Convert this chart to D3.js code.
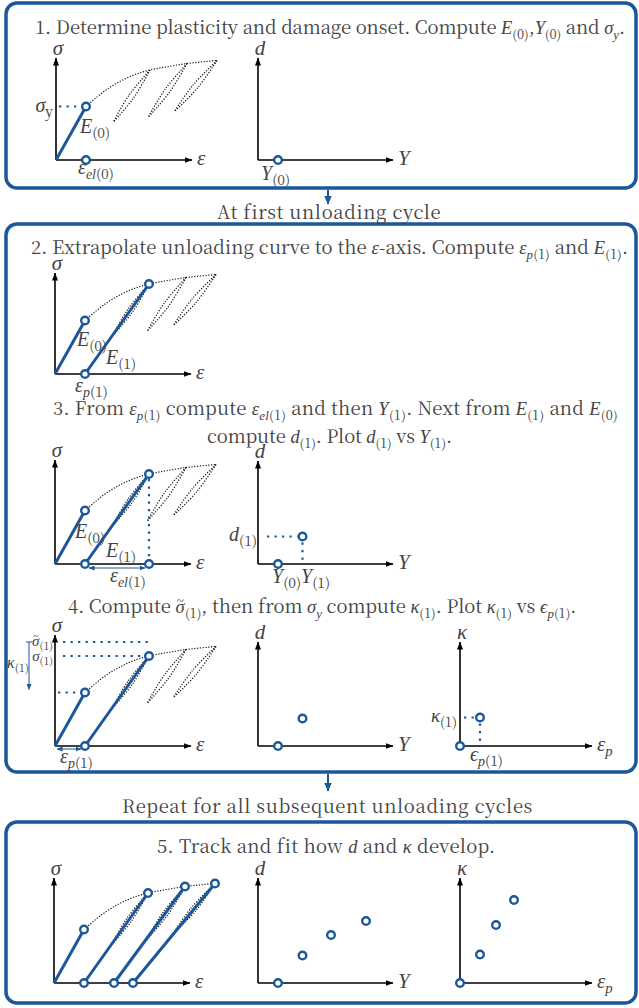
<!DOCTYPE html>
<html><head><meta charset="utf-8">
<script src="https://cdn.jsdelivr.net/npm/d3@7"></script>
<style>body{margin:0;background:#fff} svg{display:block} text{white-space:pre}</style>
</head><body><svg id="c" width="639" height="1008"></svg>
<script>
// ---------------- data ----------------
const yieldPoint   = [0.30, 0.535];            // [strain, stress] at onset of plasticity/damage
const envelope     = [[0.30,0.535],[0.53,0.72],[0.73,0.83],[0.94,0.90],[1.10,0.93],[1.31,0.965],[1.45,0.98],[1.61,0.995]];
const peaks        = [[0.94,0.90],[1.31,0.965],[1.61,0.995]];   // unloading starts
const loopBottoms  = [[0.57,0.375],[0.92,0.425],[1.18,0.48]];   // unloading ends
const loopWidth    = 0.022;
const plasticStrain = [0.30, 0.60, 0.79];      // epsilon_p(k), intercept of unloading line
const effStress1   = 1.04;                      // sigma-tilde(1)
const dY_Y = [0.20, 0.445, 0.73, 1.08];
const dY_d = [0.00, 0.275, 0.48, 0.62];
const kap_ep = [0.00, 0.20, 0.36, 0.54];
const kap_k  = [0.00, 0.285, 0.58, 0.83];

// ---------------- setup ----------------
const BLUE = "#1b5799", TXT = "#444444";
const UPRIGHT = '"Noto Serif CJK SC"', ITALIC = '"Liberation Serif"';
const svg = d3.select("#c");
const defs = svg.append("defs");
function marker(id, color, w, h) {
  defs.append("marker").attr("id", id).attr("markerUnits","userSpaceOnUse")
    .attr("markerWidth", w).attr("markerHeight", h).attr("refX", w-0.5).attr("refY", h/2)
    .attr("orient","auto-start-reverse")
    .append("path").attr("d", `M0,0L${w},${h/2}L0,${h}Z`).attr("fill", color);
}
marker("ak", "#000", 8, 6);
marker("ab", BLUE, 6, 5);
marker("abig", BLUE, 9, 8);

function rich(parent, x, y, segs, size, anchor) {
  const t = parent.append("text").attr("x", x).attr("y", y).attr("font-size", size)
    .attr("fill", TXT).attr("text-anchor", anchor || "start").style("font-family", UPRIGHT);
  let sub = false; const sh = size * 0.26;
  let pendDy = 0, pendDx = 0;
  segs.forEach(([s, st]) => {
    if (st === "~") {   // tilde accent over previous glyph
      t.append("tspan").text("~").attr("font-size", size*0.7).style("font-family", ITALIC)
        .attr("dx", -size*0.42).attr("dy", -size*0.44);
      pendDy = size*0.44; pendDx = size*0.06;
      return;
    }
    const isSub = st.includes("s"), isIt = st.includes("i");
    const ts = t.append("tspan").text(s);
    let dy = pendDy;
    if (isSub && !sub) dy += sh;
    if (!isSub && sub) dy -= sh;
    if (dy) ts.attr("dy", dy);
    if (pendDx) ts.attr("dx", pendDx);
    pendDy = 0; pendDx = 0;
    sub = isSub;
    if (isSub) ts.attr("font-size", size * 0.7);
    if (isIt) ts.style("font-family", ITALIC).style("font-style", "italic");
  });
  return t;
}
function fit(t, w) {
  const L = t.node().getComputedTextLength();
  const n = t.text().length;
  t.attr("letter-spacing", ((w - L) / n).toFixed(3));
}

// ---------------- boxes, connectors, headings ----------------
const boxes = [[3,188],[224,772],[822,1003]];
svg.selectAll("rect.box").data(boxes).join("rect").attr("class","box")
  .attr("x", 6).attr("y", d => d[0]).attr("width", 630).attr("height", d => d[1]-d[0])
  .attr("rx", 11).attr("fill","none").attr("stroke", BLUE).attr("stroke-width", 3.5);
[[190,204],[774,791]].forEach(([a,b]) => {
  svg.append("line").attr("x1",328).attr("x2",328).attr("y1",a).attr("y2",b)
    .attr("stroke",BLUE).attr("stroke-width",2).attr("marker-end","url(#abig)");
});

const headings = [
  {x:35,  y:34,  w:590, s:[["1. Determine plasticity and damage onset. Compute ",""],["E","i"],["(0)","s"],[",",""],["Y","i"],["(0)","s"],[" and ",""],["σ","i"],["y","si"],[".",""]]},
  {x:217, y:219, w:223, s:[["At first unloading cycle",""]]},
  {x:31,  y:254, w:597, s:[["2. Extrapolate unloading curve to the ",""],["ε","i"],["-axis. Compute ",""],["ε","i"],["p","si"],["(1)","s"],[" and ",""],["E","i"],["(1)","s"],[".",""]]},
  {x:53,  y:415, w:565, s:[["3. From ",""],["ε","i"],["p","si"],["(1)","s"],[" compute ",""],["ε","i"],["el","si"],["(1)","s"],[" and then ",""],["Y","i"],["(1)","s"],[". Next from ",""],["E","i"],["(1)","s"],[" and ",""],["E","i"],["(0)","s"]]},
  {x:207, y:443, w:245, s:[["compute ",""],["d","i"],["(1)","s"],[". Plot ",""],["d","i"],["(1)","s"],[" vs ",""],["Y","i"],["(1)","s"],[".",""]]},
  {x:68,  y:613, w:515, s:[["4. Compute ",""],["σ","i"],["~","~"],["(1)","s"],[", then from ",""],["σ","i"],["y","si"],[" compute ",""],["κ","i"],["(1)","s"],[". Plot ",""],["κ","i"],["(1)","s"],[" vs ",""],["ϵ","i"],["p","si"],["(1)","s"],[".",""]]},
  {x:122, y:813, w:411, s:[["Repeat for all subsequent unloading cycles",""]]},
  {x:157, y:853, w:337, s:[["5. Track and fit how ",""],["d","i"],[" and ",""],["κ","i"],[" develop.",""]]}
];
headings.forEach(h => fit(rich(svg, h.x, h.y, h.s, 18.5), h.w));

// ---------------- chart helpers ----------------
const dotted = g => g.attr("fill","none").attr("stroke","#111").attr("stroke-width",1.2).attr("stroke-dasharray","1.2,1.6");
const guide  = g => g.attr("fill","none").attr("stroke",BLUE).attr("stroke-width",2.2).attr("stroke-dasharray","2.3,5.2");

function axes(g, x, y, xMax, yMax, xl, yl) {
  g.append("line").attr("x1", x(0)).attr("x2", x(xMax)).attr("y1", y(0)).attr("y2", y(0))
    .attr("stroke","#000").attr("stroke-width",1.6).attr("marker-end","url(#ak)");
  g.append("line").attr("x1", x(0)).attr("x2", x(0)).attr("y1", y(0)).attr("y2", y(yMax))
    .attr("stroke","#000").attr("stroke-width",1.6).attr("marker-end","url(#ak)");
  rich(g, x(xMax) + 5, y(0) + 5, xl, 21);
  rich(g, x(0) + 2, y(yMax) - 3, yl, 21, "middle");
}
function pts(g, arr) {
  g.selectAll(null).data(arr).join("circle").attr("cx", d => d[0]).attr("cy", d => d[1])
    .attr("r", 3.8).attr("fill","#fff").attr("stroke",BLUE).attr("stroke-width",2.4);
}
function blueLine(g, a, b) {
  g.append("line").attr("x1",a[0]).attr("y1",a[1]).attr("x2",b[0]).attr("y2",b[1])
    .attr("stroke",BLUE).attr("stroke-width",3);
}

function sigmaChart(p) {
  const g = svg.append("g");
  const x = d3.scaleLinear().domain([0,1]).range([p.ox, p.ox + 100]);
  const y = d3.scaleLinear().domain([0,1]).range([p.oy, p.oy - 100]);
  const line = d3.line().x(d => x(d[0])).y(d => y(d[1])).curve(d3.curveMonotoneX);
  const lens = d3.line().x(d => x(d[0])).y(d => y(d[1])).curve(d3.curveCatmullRom);
  g.append("path").attr("d", line(envelope)).call(dotted);
  peaks.forEach((t, i) => {
    const b = loopBottoms[i];
    const m = [(t[0]+b[0])/2, (t[1]+b[1])/2];
    [loopWidth, -loopWidth].forEach(o => {
      g.append("path").attr("d", lens([t, [m[0]+o, m[1]-o*0.7], b])).call(dotted);
    });
  });
  axes(g, x, y, 1.36, p.yMax, [["ε","i"]], [["σ","i"]]);
  return {g, x, y};
}
function dChart(p) {
  const g = svg.append("g");
  const x = d3.scaleLinear().domain([0,1]).range([p.ox, p.ox + 100]);
  const y = d3.scaleLinear().domain([0,1]).range([p.oy, p.oy - 100]);
  axes(g, x, y, 1.35, p.yMax, [["Y","i"]], [["d","i"]]);
  return {g, x, y};
}
function kChart(p) {
  const g = svg.append("g");
  const x = d3.scaleLinear().domain([0,1]).range([p.ox, p.ox + 100]);
  const y = d3.scaleLinear().domain([0,1]).range([p.oy, p.oy - 100]);
  axes(g, x, y, 1.32, p.yMax, [["ε","i"],["p","si"]], [["κ","i"]]);
  return {g, x, y};
}
const P = (c, d) => [c.x(d[0]), c.y(d[1])];

// ---------------- panel 1 ----------------
{
  const c = sigmaChart({ox:56, oy:160, yMax:1.02});
  c.g.append("line").attr("x1", c.x(0)+3).attr("x2", c.x(yieldPoint[0])-4)
    .attr("y1", c.y(yieldPoint[1])).attr("y2", c.y(yieldPoint[1])).call(guide);
  blueLine(c.g, P(c,[0,0]), P(c, yieldPoint));
  pts(c.g, [P(c, yieldPoint), P(c, [yieldPoint[0], 0])]);
  rich(c.g, c.x(0)-3, c.y(yieldPoint[1])+5, [["σ","i"],["y","s"]], 20, "end");
  rich(c.g, 80, 133, [["E","i"],["(0)","s"]], 20);
  rich(c.g, 78, 174, [["ε","i"],["el","si"],["(0)","s"]], 20);
  const dc = dChart({ox:258, oy:160, yMax:1.02});
  pts(dc.g, [P(dc, [dY_Y[0], dY_d[0]])]);
  rich(dc.g, 261, 180, [["Y","i"],["(0)","s"]], 20);
}
// ---------------- panel 2 ----------------
{
  const c = sigmaChart({ox:55, oy:374, yMax:1.01});
  blueLine(c.g, P(c,[0,0]), P(c, yieldPoint));
  blueLine(c.g, P(c,[plasticStrain[0],0]), P(c, peaks[0]));
  pts(c.g, [P(c, yieldPoint), P(c, peaks[0]), P(c, [plasticStrain[0], 0])]);
  rich(c.g, 77, 346, [["E","i"],["(0)","s"]], 20);
  rich(c.g, 106, 364, [["E","i"],["(1)","s"]], 20);
  rich(c.g, 75, 392, [["ε","i"],["p","si"],["(1)","s"]], 20);
}
// ---------------- panel 3 ----------------
{
  const c = sigmaChart({ox:55, oy:564, yMax:1.04});
  c.g.append("line").attr("x1", c.x(peaks[0][0])).attr("x2", c.x(peaks[0][0]))
    .attr("y1", c.y(peaks[0][1])+5).attr("y2", c.y(0)-4).call(guide);
  blueLine(c.g, P(c,[0,0]), P(c, yieldPoint));
  blueLine(c.g, P(c,[plasticStrain[0],0]), P(c, peaks[0]));
  c.g.append("line").attr("x1", c.x(plasticStrain[0])+4).attr("x2", c.x(peaks[0][0])-4)
    .attr("y1", c.y(0)+4).attr("y2", c.y(0)+4).attr("stroke",BLUE).attr("stroke-width",1)
    .attr("marker-start","url(#ab)").attr("marker-end","url(#ab)");
  pts(c.g, [P(c, yieldPoint), P(c, peaks[0]), P(c, [plasticStrain[0], 0]), P(c, [peaks[0][0], 0])]);
  rich(c.g, 75, 538, [["E","i"],["(0)","s"]], 20);
  rich(c.g, 106, 557, [["E","i"],["(1)","s"]], 20);
  rich(c.g, 110, 582, [["ε","i"],["el","si"],["(1)","s"]], 20);

  const dc = dChart({ox:258, oy:564, yMax:1.03});
  dc.g.append("line").attr("x1", dc.x(0)+9).attr("x2", dc.x(dY_Y[1])-5)
    .attr("y1", dc.y(dY_d[1])).attr("y2", dc.y(dY_d[1])).call(guide);
  dc.g.append("line").attr("x1", dc.x(dY_Y[1])).attr("x2", dc.x(dY_Y[1]))
    .attr("y1", dc.y(dY_d[1])+6).attr("y2", dc.y(0)-2).call(guide);
  pts(dc.g, [P(dc,[dY_Y[0],dY_d[0]]), P(dc,[dY_Y[1],dY_d[1]])]);
  rich(dc.g, 257, 541, [["d","i"],["(1)","s"]], 20, "end");
  rich(dc.g, 272, 583, [["Y","i"],["(0)","s"],["Y","i"],["(1)","s"]], 20);
}
// ---------------- panel 4 ----------------
{
  const c = sigmaChart({ox:55, oy:746, yMax:1.11});
  c.g.append("line").attr("x1", c.x(0)+8).attr("x2", c.x(peaks[0][0])+1)
    .attr("y1", c.y(effStress1)).attr("y2", c.y(effStress1)).call(guide);
  c.g.append("line").attr("x1", c.x(0)+8).attr("x2", c.x(peaks[0][0])-5)
    .attr("y1", c.y(peaks[0][1])).attr("y2", c.y(peaks[0][1])).call(guide);
  c.g.append("line").attr("x1", c.x(0)+3).attr("x2", c.x(yieldPoint[0])-4)
    .attr("y1", c.y(yieldPoint[1])).attr("y2", c.y(yieldPoint[1])).call(guide);
  blueLine(c.g, P(c,[0,0]), P(c, yieldPoint));
  blueLine(c.g, P(c,[plasticStrain[0],0]), P(c, peaks[0]));
  c.g.append("line").attr("x1", c.x(0)+2).attr("x2", c.x(plasticStrain[0])-4)
    .attr("y1", c.y(0)+3).attr("y2", c.y(0)+3).attr("stroke",BLUE).attr("stroke-width",1)
    .attr("marker-start","url(#ab)").attr("marker-end","url(#ab)");
  c.g.append("line").attr("x1", 29).attr("x2", 29)
    .attr("y1", c.y(effStress1)).attr("y2", c.y(yieldPoint[1])-3).attr("stroke",BLUE).attr("stroke-width",1)
    .attr("marker-end","url(#ab)");
  c.g.append("line").attr("x1", 26).attr("x2", 32).attr("y1", c.y(effStress1)).attr("y2", c.y(effStress1))
    .attr("stroke",BLUE).attr("stroke-width",1);
  pts(c.g, [P(c, yieldPoint), P(c, peaks[0]), P(c, [plasticStrain[0], 0])]);
  rich(c.g, 53, 646, [["σ","i"],["~","~"],["(1)","s"]], 15, "end");
  rich(c.g, 53, 661, [["σ","i"],["(1)","s"]], 15, "end");
  rich(c.g, 7, 668, [["κ","i"],["(1)","s"]], 16);
  rich(c.g, 60, 763, [["ε","i"],["p","si"],["(1)","s"]], 20);

  const dc = dChart({ox:258, oy:746, yMax:1.04});
  pts(dc.g, [P(dc,[dY_Y[0],dY_d[0]]), P(dc,[dY_Y[1],dY_d[1]])]);

  const kc = kChart({ox:460, oy:746, yMax:1.04});
  kc.g.append("line").attr("x1", kc.x(0)+4).attr("x2", kc.x(kap_ep[1])-5)
    .attr("y1", kc.y(kap_k[1])).attr("y2", kc.y(kap_k[1])).call(guide);
  kc.g.append("line").attr("x1", kc.x(kap_ep[1])).attr("x2", kc.x(kap_ep[1]))
    .attr("y1", kc.y(kap_k[1])+6).attr("y2", kc.y(0)-3).call(guide);
  pts(kc.g, [P(kc,[kap_ep[0],kap_k[0]]), P(kc,[kap_ep[1],kap_k[1]])]);
  rich(kc.g, 457, 722, [["κ","i"],["(1)","s"]], 19, "end");
  rich(kc.g, 470, 761, [["ϵ","i"],["p","si"],["(1)","s"]], 20);
}
// ---------------- panel 5 ----------------
{
  const c = sigmaChart({ox:54, oy:983, yMax:1.05});
  blueLine(c.g, P(c,[0,0]), P(c, yieldPoint));
  peaks.forEach((pk, i) => blueLine(c.g, P(c,[plasticStrain[i],0]), P(c, pk)));
  pts(c.g, [P(c, yieldPoint), ...peaks.map(pk => P(c, pk)), ...plasticStrain.map(e => P(c,[e,0]))]);

  const dc = dChart({ox:258, oy:983, yMax:1.05});
  pts(dc.g, dY_Y.map((v,i) => P(dc,[v, dY_d[i]])));

  const kc = kChart({ox:460, oy:983, yMax:1.05});
  pts(kc.g, kap_ep.map((v,i) => P(kc,[v, kap_k[i]])));
}
</script></body></html>
